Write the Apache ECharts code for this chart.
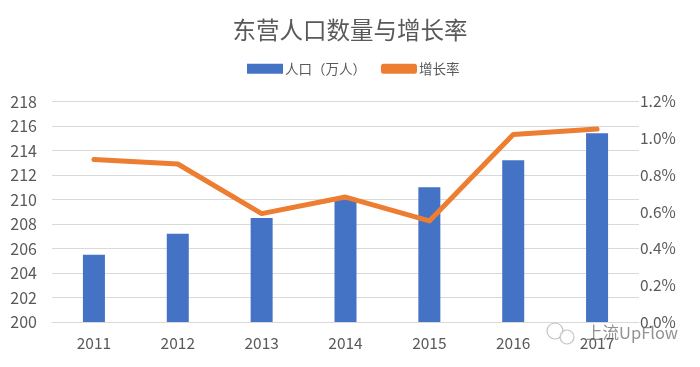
<!DOCTYPE html>
<html><head><meta charset="utf-8">
<style>html,body{margin:0;padding:0;background:#fff}#c{width:700px;height:367px}</style>
<script src="https://cdn.jsdelivr.net/npm/echarts@6/dist/echarts.min.js"></script>
</head><body><div id="c"></div>
<script>
const categories = ['2011','2012','2013','2014','2015','2016','2017'];
const population = [205.5,207.2,208.5,210,211,213.2,215.4];
const growth = [0.885,0.86,0.59,0.68,0.55,1.02,1.05];
const FONT = '"Noto Sans CJK SC","Liberation Sans",sans-serif';
const chart = echarts.init(document.getElementById('c'));
chart.setOption({
  animation:false,
  backgroundColor:'#fff',
  textStyle:{fontFamily:FONT},
  title:{text:'东营人口数量与增长率',left:'center',top:13,
    textStyle:{fontSize:23.5,fontWeight:'normal',color:'#595959',fontFamily:FONT}},
  legend:{top:57,left:242,itemGap:15,itemWidth:36,itemHeight:10,
    textStyle:{fontSize:13.5,color:'#595959',padding:[0,0,0,-3]},
    data:[{name:'人口（万人）',icon:'rect'},{name:'增长率',icon:'roundRect',itemHeight:4}]},
  grid:{left:52,right:61,top:101.5,bottom:45},
  xAxis:{type:'category',data:categories,
    axisLine:{lineStyle:{color:'#d9d9d9'}},axisTick:{show:false},
    axisLabel:{fontSize:15.5,color:'#595959',margin:13}},
  yAxis:[
    {type:'value',min:200,max:218,interval:2,
     axisLine:{show:false},axisTick:{show:false},
     axisLabel:{fontSize:16,color:'#595959',margin:15},
     splitLine:{lineStyle:{color:'#d9d9d9'}}},
    {type:'value',min:0,max:1.2,interval:0.2,
     axisLine:{show:false},axisTick:{show:false},splitLine:{show:false},
     axisLabel:{fontSize:15.5,color:'#595959',margin:1,align:'left',
       formatter:v=>v.toFixed(1)+'%'}}
  ],
  series:[
    {name:'人口（万人）',type:'bar',data:population,barWidth:22,itemStyle:{color:'#4472c4'}},
    {name:'增长率',type:'line',yAxisIndex:1,data:growth,showSymbol:false,symbol:'none',
     lineStyle:{color:'#ed7d31',width:5,cap:'round',join:'round'},itemStyle:{color:'#ed7d31'}}
  ],
  graphic:[
    {type:'circle',z:49,shape:{cx:555,cy:331,r:8},style:{fill:'rgba(255,255,255,0.7)',stroke:'rgba(170,170,170,0.7)',lineWidth:1.2}},
    {type:'circle',z:49,shape:{cx:567,cy:337,r:7},style:{fill:'rgba(255,255,255,0.7)',stroke:'rgba(170,170,170,0.7)',lineWidth:1.2}},
    {type:'text',left:586,top:324,z:50,
    style:{text:'上流UpFlow',font:'16.5px '+FONT,fill:'rgba(110,110,110,0.75)'}}]
});
</script></body></html>
